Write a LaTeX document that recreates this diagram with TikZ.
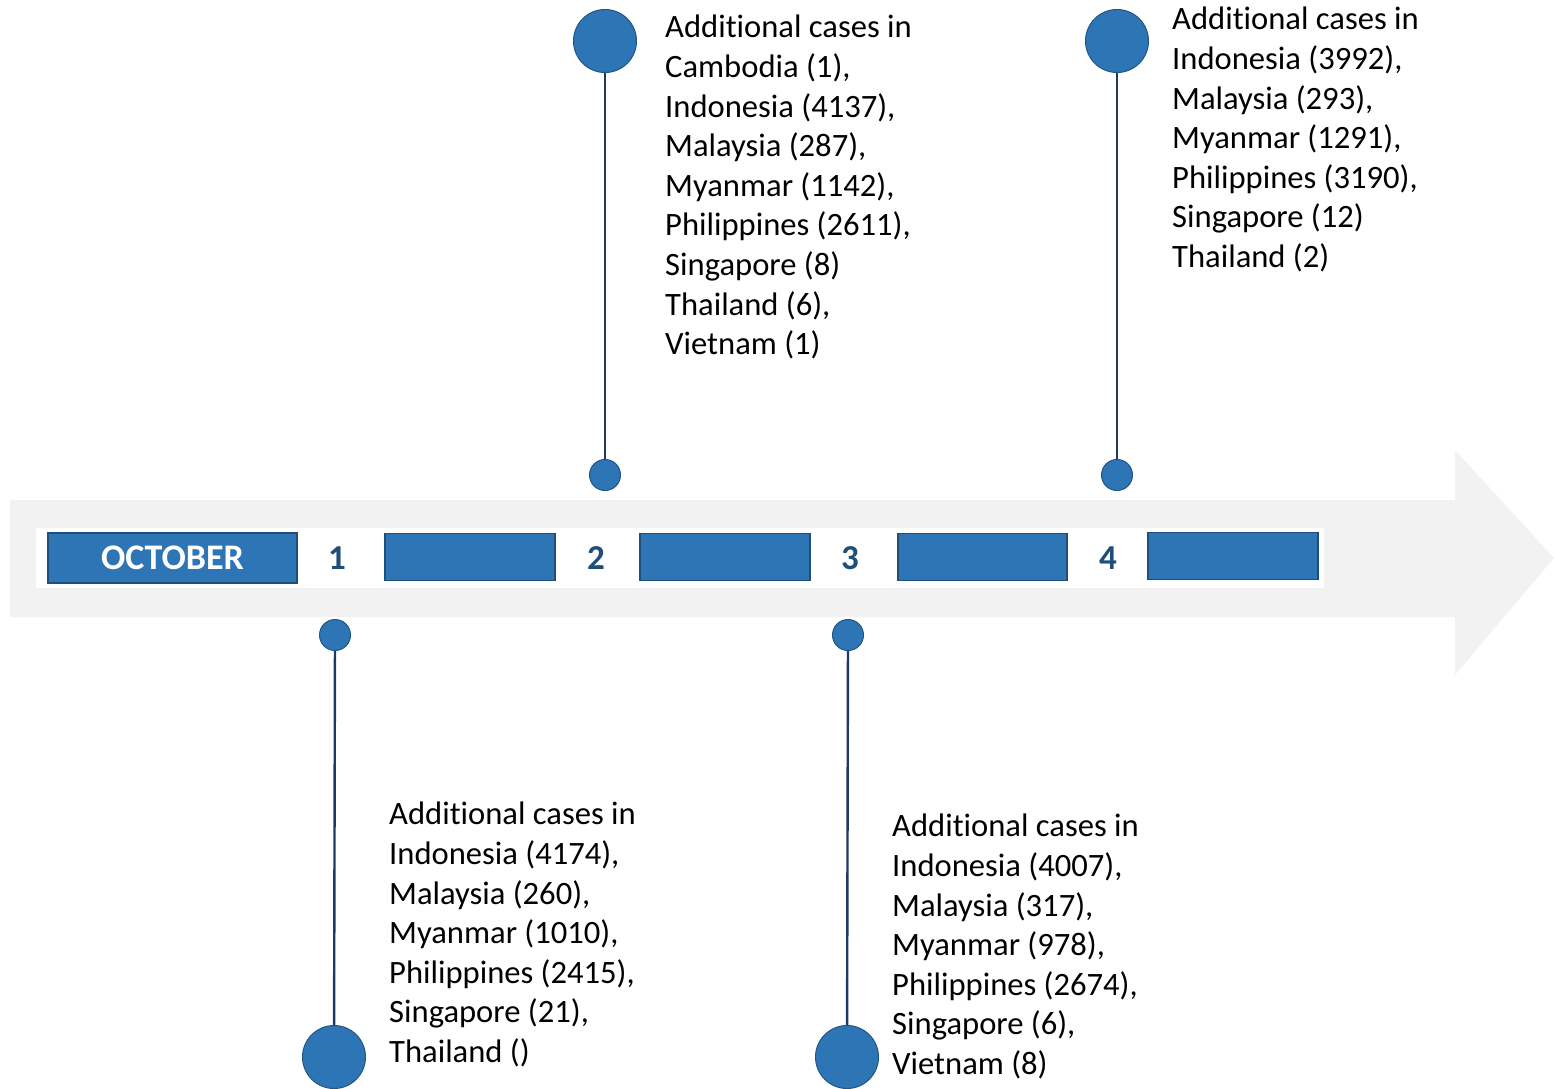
\documentclass[tikz,border=0pt]{standalone}
\usepackage{fontspec}
\setmainfont{Carlito}[Ligatures=NoCommon]
\definecolor{band}{HTML}{F2F2F2}
\definecolor{mblue}{HTML}{2E75B6}
\definecolor{dblue}{HTML}{1F4E79}
\definecolor{lineblue}{HTML}{203864}
\begin{document}
\begin{tikzpicture}[x=1pt,y=-1pt,
  bar/.style={rectangle,fill=mblue,draw=dblue,line width=1.2pt,inner sep=0pt,minimum height=47pt},
  num/.style={font=\fontsize{35}{40}\selectfont\bfseries,text=dblue,inner sep=0pt},
  bigdot/.style={circle,fill=mblue,draw=dblue!80!mblue,line width=1pt,minimum size=63pt,inner sep=0pt},
  smalldot/.style={circle,fill=mblue,draw=dblue!80!mblue,line width=1pt,minimum size=31pt,inner sep=0pt},
  stem/.style={draw=lineblue,line width=2.4pt},
  info/.style={anchor=north west,align=left,inner sep=0pt,font=\fontsize{32.6}{39.6}\selectfont,text=black}]
\useasboundingbox (0,0) rectangle (1554,1088);
% arrow band
\fill[band] (10,500) -- (1455,500) -- (1455,450) -- (1554,558) -- (1455,675) -- (1455,617) -- (10,617) -- cycle;
% white strip
\fill[white] (36,528) rectangle (1324,588);
% bars
\node[bar,minimum width=249pt,minimum height=50pt] (oct) at (172.5,558) {\textcolor{white}{\fontsize{36}{40}\selectfont\bfseries OCTOBER}};
\node[bar,minimum width=170pt] (b2) at (470,557) {};
\node[bar,minimum width=170pt] (b3) at (725,557) {};
\node[bar,minimum width=169pt] (b4) at (982.5,557) {};
\node[bar,minimum width=170pt] (b5) at (1233,556) {};
% numbers
\node[num] (n1) at (337,558) {1};
\node[num] (n2) at (596,558) {2};
\node[num] (n3) at (850,558) {3};
\node[num] (n4) at (1108,558) {4};
% dots
\node[smalldot] (s1) at (335,635) {};
\node[smalldot] (s2) at (605,475) {};
\node[smalldot] (s3) at (848,635) {};
\node[smalldot] (s4) at (1117,475) {};
\node[bigdot] (g1) at (334,1057) {};
\node[bigdot] (g2) at (605,41) {};
\node[bigdot] (g3) at (847,1057) {};
\node[bigdot] (g4) at (1117,41) {};
\draw[stem] (g1) -- (s1);
\draw[stem] (g2) -- (s2);
\draw[stem] (g3) -- (s3);
\draw[stem] (g4) -- (s4);
% texts
\node[info] (t2) at (665,15) {Additional cases in\\Cambodia (1),\\Indonesia (4137),\\Malaysia (287),\\Myanmar (1142),\\Philippines (2611),\\Singapore (8)\\Thailand (6),\\Vietnam (1)};
\node[info] (t4) at (1172,7) {Additional cases in\\Indonesia (3992),\\Malaysia (293),\\Myanmar (1291),\\Philippines (3190),\\Singapore (12)\\Thailand (2)};
\node[info] (t1) at (389,802) {Additional cases in\\Indonesia (4174),\\Malaysia (260),\\Myanmar (1010),\\Philippines (2415),\\Singapore (21),\\Thailand ()};
\node[info] (t3) at (892,814) {Additional cases in\\Indonesia (4007),\\Malaysia (317),\\Myanmar (978),\\Philippines (2674),\\Singapore (6),\\Vietnam (8)};
\end{tikzpicture}
\end{document}
